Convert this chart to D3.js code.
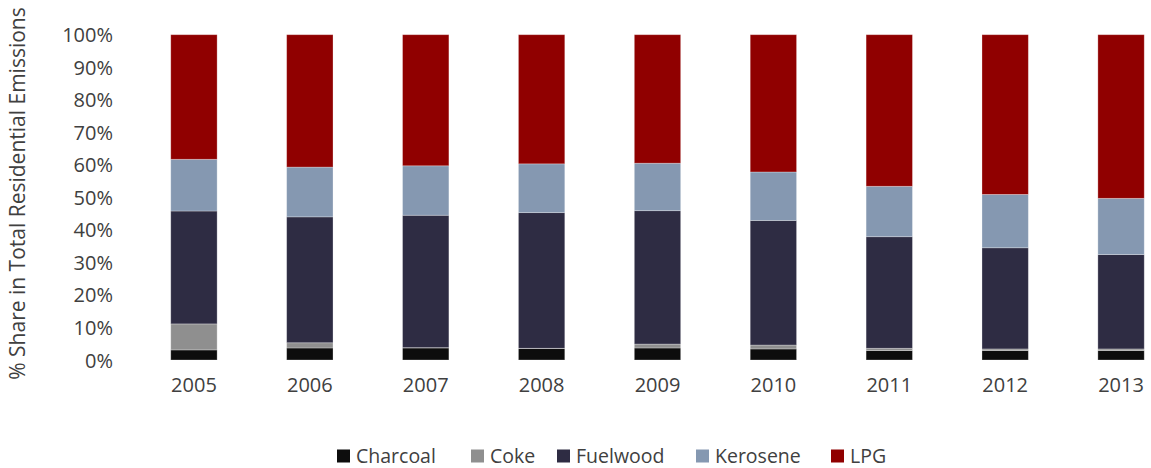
<!DOCTYPE html>
<html>
<head>
<meta charset="utf-8">
<script src="https://cdn.jsdelivr.net/npm/d3@7"></script>
<style>
  html, body { margin: 0; padding: 0; background: #fff; }
  svg { display: block; font-family: "Open Sans", "Noto Sans", sans-serif; }
</style>
</head>
<body>
<svg id="chart" width="1151" height="468"></svg>
<script>
const years = ["2005","2006","2007","2008","2009","2010","2011","2012","2013"];
const seriesNames = ["Charcoal","Coke","Fuelwood","Kerosene","LPG"];
const charcoal = [3.1, 3.7, 3.7, 3.5, 3.7, 3.4, 2.9, 2.9, 2.9];
const coke     = [8.0, 1.6, 0.1, 0.1, 1.2, 1.2, 0.7, 0.5, 0.5];
const fuelwood = [34.7, 38.7, 40.7, 41.7, 41.0, 38.3, 34.3, 31.1, 29.0];
const kerosene = [15.9, 15.3, 15.2, 15.0, 14.6, 14.9, 15.5, 16.4, 17.3];
const lpg      = [38.3, 40.7, 40.3, 39.7, 39.5, 42.2, 46.6, 49.1, 50.3];
const colors = ["#0d0d0d", "#8f8f8f", "#2e2c43", "#8598b1", "#900000"];
const yTicks = [0,10,20,30,40,50,60,70,80,90,100];
const yTitle = "% Share in Total Residential Emissions";

const seriesValues = [charcoal, coke, fuelwood, kerosene, lpg];
const rows = years.map((y, i) => {
  const r = { year: y };
  seriesNames.forEach((s, j) => r[s] = seriesValues[j][i]);
  return r;
});
// normalize to 100%
rows.forEach(r => {
  const tot = d3.sum(seriesNames, s => r[s]);
  seriesNames.forEach(s => r[s] = r[s] / tot * 100);
});

const svg = d3.select("#chart");
const x = d3.scaleBand().domain(years).range([136, 1179]).paddingInner(0.6).paddingOuter(0.3);
const y = d3.scaleLinear().domain([0, 100]).range([360, 34.7]);
const color = d3.scaleOrdinal().domain(seriesNames).range(colors);

const stack = d3.stack().keys(seriesNames);
const stacked = stack(rows);

svg.append("g").selectAll("g")
  .data(stacked).join("g")
  .attr("fill", d => color(d.key))
  .selectAll("rect")
  .data(d => d).join("rect")
  .attr("x", d => x(d.data.year))
  .attr("width", x.bandwidth())
  .attr("y", d => y(d[1]))
  .attr("height", d => y(d[0]) - y(d[1]))
  .attr("stroke", "rgba(255,255,255,0.35)")
  .attr("stroke-width", 0.8);

const textColor = "#404040";

// Y axis
const yAxis = d3.axisLeft(y).tickValues(yTicks).tickFormat(d => d + "%").tickSize(0).tickPadding(0);
const yg = svg.append("g").attr("transform", "translate(113,0)").call(yAxis);
yg.select(".domain").remove();
yg.selectAll("text").attr("font-size", 20).attr("fill", textColor)
  .attr("font-family", "'Open Sans', sans-serif").attr("dy", "0.35em");

// X axis
const xAxis = d3.axisBottom(x).tickSize(0).tickPadding(0);
const xg = svg.append("g").attr("transform", "translate(0,378)").call(xAxis);
xg.select(".domain").remove();
xg.selectAll("text").attr("font-size", 20).attr("fill", textColor)
  .attr("font-family", "'Open Sans', sans-serif").attr("dy", "0.71em");

// Y title
svg.append("text")
  .attr("transform", "translate(25,193.5) rotate(-90)")
  .attr("text-anchor", "middle")
  .attr("font-size", 21)
  .attr("fill", textColor)
  .text(yTitle);

// Legend
const legendX = [337, 471, 557, 696, 831];
const lg = svg.append("g").selectAll("g").data(seriesNames).join("g")
  .attr("transform", (d, i) => `translate(${legendX[i]},449.5)`);
lg.append("rect").attr("width", 13).attr("height", 13).attr("fill", d => color(d));
lg.append("text").attr("x", 19).attr("y", 13).attr("font-size", 19.5).attr("fill", textColor).text(d => d);
</script>
</body>
</html>
